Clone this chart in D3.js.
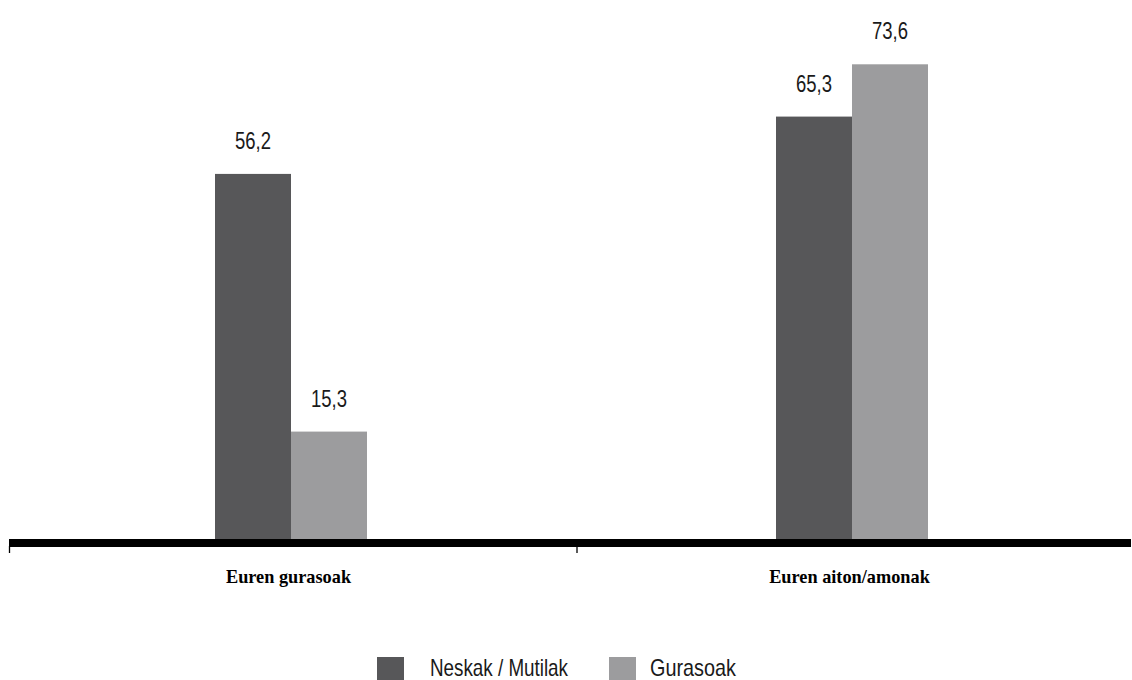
<!DOCTYPE html>
<html>
<head>
<meta charset="utf-8">
<script src="https://cdn.jsdelivr.net/npm/d3@7"></script>
<style>
  html, body { margin: 0; padding: 0; background: #fff; }
  svg { display: block; }
  .num { font-family: "Liberation Sans", Arial, sans-serif; }
  .cat { font-family: "Liberation Serif", "Times New Roman", serif; font-weight: bold; }
</style>
</head>
<body>
<svg id="chart" width="1132" height="680"></svg>
<script>
const categories = ["Euren gurasoak", "Euren aiton/amonak"];
const seriesNames = ["Neskak / Mutilak", "Gurasoak"];
const neskakMutilak = [56.2, 65.3];
const gurasoak = [15.3, 73.6];
const valueLabels = [["56,2", "65,3"], ["15,3", "73,6"]];
const seriesColors = ["#575759", "#9c9c9e"];

const svg = d3.select("#chart");
const seriesValues = [neskakMutilak, gurasoak];

const x0 = d3.scaleBand().domain(categories).range([10.5, 1132.5]);
const xTick = d3.scaleBand().domain(categories).range([9, 1144]);
const x1 = d3.scaleBand().domain(seriesNames).range([0, 152]);
const y = d3.scaleLinear().domain([-1.75, 80]).range([539, 539 - 81.75 * 6.3]);

const data = [];
categories.forEach((c, i) => {
  seriesNames.forEach((s, j) => {
    data.push({cat: c, series: s, value: seriesValues[j][i], label: valueLabels[j][i], color: seriesColors[j]});
  });
});

const groupOffset = (x0.bandwidth() - 152) / 2;

svg.append("g").selectAll("rect").data(data).join("rect")
  .attr("x", d => x0(d.cat) + groupOffset + x1(d.series))
  .attr("y", d => y(d.value))
  .attr("width", x1.bandwidth())
  .attr("height", d => y(-1.75) - y(d.value))
  .attr("fill", d => d.color);

svg.append("g").selectAll("text").data(data).join("text")
  .attr("class", "num")
  .attr("x", d => x0(d.cat) + groupOffset + x1(d.series) + x1.bandwidth() / 2)
  .attr("y", d => y(d.value) - 25)
  .attr("text-anchor", "middle")
  .attr("font-size", 24)
  .attr("textLength", 36)
  .attr("lengthAdjust", "spacingAndGlyphs")
  .attr("fill", "#1a1a1a")
  .text(d => d.label);

// axis line
svg.append("rect")
  .attr("x", 9).attr("y", 539).attr("width", 1131 - 9).attr("height", 8)
  .attr("fill", "#000");

// ticks at band boundaries
svg.append("g").selectAll("line").data(categories).join("line")
  .attr("x1", d => xTick(d) + 0.5).attr("x2", d => xTick(d) + 0.5)
  .attr("y1", 546).attr("y2", 553)
  .attr("stroke", "#000").attr("stroke-width", 1.3);

// category labels
svg.append("g").selectAll("text").data(categories).join("text")
  .attr("class", "cat")
  .attr("x", d => x0(d) + x0.bandwidth() / 2 - 2.5)
  .attr("y", 583)
  .attr("text-anchor", "middle")
  .attr("font-size", 18.3)
  .attr("fill", "#000")
  .text(d => d);

// legend
const legendX = [377, 609];
const legendTextLen = [138, 86];
const legend = svg.append("g").selectAll("g").data(seriesNames).join("g")
  .attr("transform", (d, i) => `translate(${legendX[i]},657)`);
legend.append("rect").attr("width", 27).attr("height", 27).attr("fill", (d, i) => seriesColors[i]);
legend.append("text")
  .attr("class", "num")
  .attr("x", (d, i) => i === 0 ? 53 : 41)
  .attr("y", 19)
  .attr("font-size", 24)
  .attr("textLength", (d, i) => legendTextLen[i])
  .attr("lengthAdjust", "spacingAndGlyphs")
  .attr("fill", "#1a1a1a")
  .text(d => d);
</script>
</body>
</html>
